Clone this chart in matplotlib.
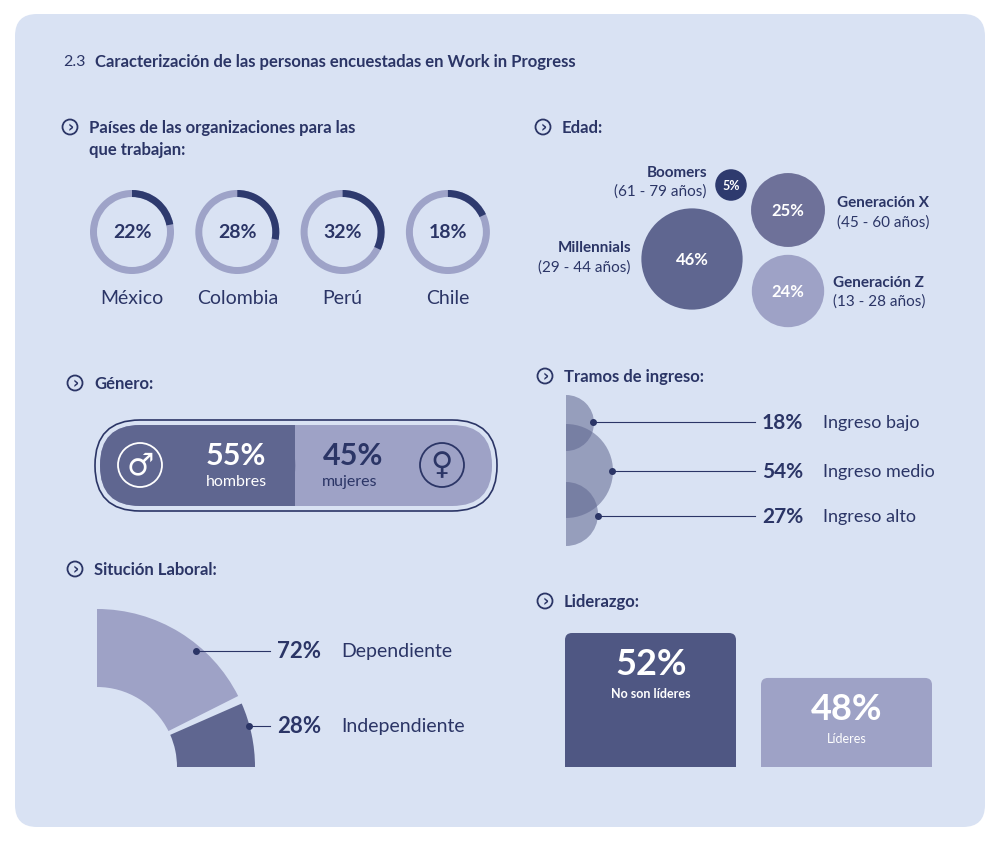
import matplotlib
matplotlib.use("Agg")
import matplotlib.pyplot as plt
from matplotlib.patches import FancyBboxPatch, Wedge, Circle, Rectangle
import numpy as np

countries = ["México", "Colombia", "Perú", "Chile"]
country_pct = [22, 28, 32, 18]
age_labels = ["Millennials", "Generación X", "Generación Z", "Boomers"]
age_ranges = ["(29 - 44 años)", "(45 - 60 años)", "(13 - 28 años)", "(61 - 79 años)"]
age_pct = [46, 25, 24, 5]
gender_labels = ["hombres", "mujeres"]
gender_pct = [55, 45]
labor_labels = ["Dependiente", "Independiente"]
labor_pct = [72, 28]
income_labels = ["Ingreso bajo", "Ingreso medio", "Ingreso alto"]
income_pct = [18, 54, 27]
lead_labels = ["No son líderes", "Líderes"]
lead_pct = [52, 48]

NAVY = "#2b3566"; DARK = "#2e3a6e"; TRACK = "#9ea3c8"; BG = "#d9e2f3"
MID = "#5f6690"; MID2 = "#6e7199"; LIGHT = "#9ea2c6"
plt.rcParams['font.family'] = ['Lato', 'DejaVu Sans']

fig = plt.figure(figsize=(10, 8.45), dpi=100)
ax = fig.add_axes([0, 0, 1, 1])
ax.set_xlim(0, 1000); ax.set_ylim(845, 0); ax.axis('off')
ax.add_patch(FancyBboxPatch((15, 15), 970, 813, boxstyle="round,pad=0,rounding_size=22", fc=BG, ec='none'))

def T(x, y, s, size=12, w='normal', ha='left', c=NAVY, **k):
    ax.text(x, y, s, fontsize=size, fontweight=w, ha=ha, va='center', color=c, **k)

T(63, 62, "2.3", 11.5)
T(95, 62, "Caracterización de las personas encuestadas en Work in Progress", 12, 'bold')

def head(x, y, s, s2=None):
    ax.add_patch(Circle((x, y), 7.5, fc='none', ec=NAVY, lw=1.3))
    T(x + 0.5, y - 0.5, "›", 11, 'bold', ha='center', family=['DejaVu Sans'])
    T(x + 19, y, s, 12, 'bold')
    if s2: T(x + 19, y + 22, s2, 12, 'bold')

head(70, 128, "Países de las organizaciones para las", "que trabajan:")
head(543, 128, "Edad:")
head(75, 384, "Género:")
head(545, 377, "Tramos de ingreso:")
head(75, 570, "Situción Laboral:")
head(545, 602, "Liderazgo:")

# donuts (y axis inverted: data angle -90 is the top)
for i, (n, p) in enumerate(zip(countries, country_pct)):
    cx = 132 + i * 105.3; cy = 233
    ax.add_patch(Wedge((cx, cy), 42, 0, 360, width=7, fc=TRACK, ec='none'))
    ax.add_patch(Wedge((cx, cy), 42, -90, -90 + p * 3.6, width=7, fc=DARK, ec='none'))
    T(cx, cy, f"{p}%", 14, 'bold', ha='center')
    T(cx, cy + 66, n, 14, ha='center')

# age bubbles
k = 7.67
centers = [(692, 260), (788, 211), (788, 292), (731, 186)]
cols = [MID, MID2, LIGHT, DARK]
for (cx, cy), p, c in zip(centers, age_pct, cols):
    r = k * np.sqrt(p)
    ax.add_patch(Circle((cx, cy), r, fc=c, ec=BG, lw=2))
    T(cx, cy, f"{p}%", 9 if p < 10 else 12, 'bold', ha='center', c='white')
T(631, 248, age_labels[0], 11, 'bold', ha='right'); T(631, 268, age_ranges[0], 11, ha='right')
T(837, 203, age_labels[1], 11, 'bold'); T(837, 223, age_ranges[1], 11)
T(833, 283, age_labels[2], 11, 'bold'); T(833, 302, age_ranges[2], 11)
T(707, 173, age_labels[3], 11, 'bold', ha='right'); T(707, 192, age_ranges[3], 11, ha='right')

# gender pill
ax.add_patch(FancyBboxPatch((95, 421), 402, 91, boxstyle="round,pad=0,rounding_size=45", fc='none', ec=NAVY, lw=1.2))
split = 100 + 355 * gender_pct[0] / 100
ax.add_patch(FancyBboxPatch((100, 426), 392, 81, boxstyle="round,pad=0,rounding_size=40", fc=LIGHT, ec='none'))
ax.add_patch(FancyBboxPatch((100, 426), split - 100, 81, boxstyle="round,pad=0,rounding_size=40", fc=MID, ec='none'))
ax.add_patch(Rectangle((split - 45, 426), 45, 81, fc=MID, ec='none'))
ax.add_patch(Circle((140, 466), 22, fc='none', ec='white', lw=1.3))
T(140, 466, "♂", 22, ha='center', c='white', family=['DejaVu Sans'])
ax.add_patch(Circle((442, 466), 22, fc='none', ec=NAVY, lw=1.3))
T(442, 466, "♀", 22, ha='center', c=NAVY, family=['DejaVu Sans'])
T(236, 456, f"{gender_pct[0]}%", 22, 'bold', ha='center', c='white')
T(236, 482, gender_labels[0], 11.5, ha='center', c='white')
T(353, 456, f"{gender_pct[1]}%", 22, 'bold', ha='center')
T(350, 482, gender_labels[1], 11.5, ha='center')

# labor arc (display angles 0..90 -> data -90..0)
c0 = (97, 768); R, W = 158, 78
a1 = 90 * labor_pct[1] / 100
ax.add_patch(Wedge(c0, R, -90, -a1 - 1.5, width=W, fc=LIGHT, ec='none'))
ax.add_patch(Wedge(c0, R, -a1 + 1.5, 0, width=W, fc=MID, ec='none'))
for pt, ty, lab, p in [((196, 652), 652, labor_labels[0], labor_pct[0]), ((249, 727), 727, labor_labels[1], labor_pct[1])]:
    ax.plot([pt[0], 270], [pt[1], ty], color=NAVY, lw=0.8)
    ax.plot(*pt, 'o', ms=4, color=NAVY)
    T(277, ty, f"{p}%", 16, 'bold'); T(341, ty, lab, 14)

# income semicircles
ic = [(566, 424, 28), (566, 472, 47), (566, 515, 32)]
for (cx, cy, r) in ic:
    ax.add_patch(Wedge((cx, cy), r, -90, 90, fc=MID, alpha=0.55, ec='none'))
ys = [423, 472, 517]; px = [593, 612, 598]
for x0, y0, lab, p in zip(px, ys, income_labels, income_pct):
    ax.plot([x0, 755], [y0, y0], color=NAVY, lw=0.8)
    ax.plot(x0, y0, 'o', ms=4, color=NAVY)
    T(762, y0, f"{p}%", 15, 'bold'); T(823, y0, lab, 13)

# leadership bars
base = 768; kk = 134 / 52
for x0, p, c, lab in [(565, lead_pct[0], "#4f5783", lead_labels[0]), (761, lead_pct[1], LIGHT, lead_labels[1])]:
    h = p * kk * (0.72 if p < 50 else 1)
    ax.add_patch(FancyBboxPatch((x0, base - h), 171, h + 20, boxstyle="round,pad=0,rounding_size=7", fc=c, ec='none'))
    T(x0 + 86, base - h + 31, f"{p}%", 26, 'bold', ha='center', c='white')
    T(x0 + 86, base - h + 60, lab, 9, 'bold' if p > 50 else 'normal', ha='center', c='white')
ax.add_patch(Rectangle((540, 768), 420, 40, fc=BG, ec='none'))

fig.savefig("out.png", dpi=100)
